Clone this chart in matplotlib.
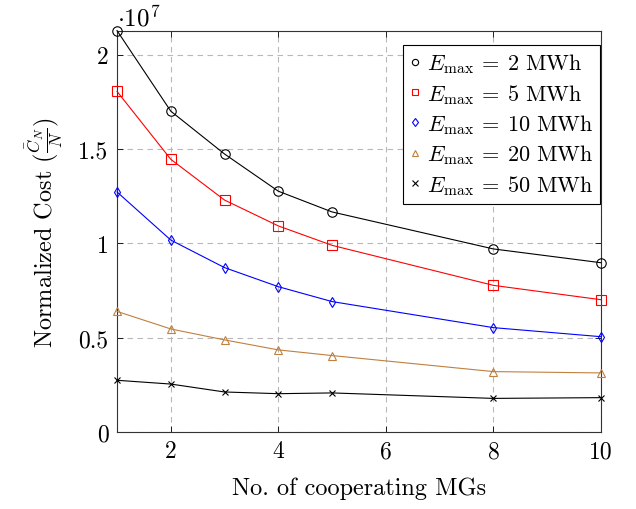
import matplotlib
matplotlib.use("Agg")
import matplotlib.pyplot as plt
from matplotlib.lines import Line2D
from matplotlib.ticker import FuncFormatter

plt.rcParams['font.family'] = 'serif'
plt.rcParams['font.serif'] = ['cmr10']
plt.rcParams['mathtext.fontset'] = 'cm'
plt.rcParams['axes.unicode_minus'] = False

mgs = [1, 2, 3, 4, 5, 8, 10]
cost_2 = [2.127e7, 1.700e7, 1.473e7, 1.276e7, 1.166e7, 0.970e7, 0.897e7]
cost_5 = [1.805e7, 1.445e7, 1.229e7, 1.092e7, 0.989e7, 0.777e7, 0.701e7]
cost_10 = [1.272e7, 1.017e7, 0.871e7, 0.770e7, 0.691e7, 0.553e7, 0.505e7]
cost_20 = [0.639e7, 0.546e7, 0.488e7, 0.435e7, 0.405e7, 0.320e7, 0.313e7]
cost_50 = [0.274e7, 0.254e7, 0.212e7, 0.203e7, 0.207e7, 0.178e7, 0.182e7]
labels = [r'$E_{\max}\:=\:2\ \mathrm{MWh}$', r'$E_{\max}\:=\:5\ \mathrm{MWh}$',
          r'$E_{\max}\:=\:10\ \mathrm{MWh}$', r'$E_{\max}\:=\:20\ \mathrm{MWh}$',
          r'$E_{\max}\:=\:50\ \mathrm{MWh}$']
xticks = [2, 4, 6, 8, 10]
yticks = [0, 0.5e7, 1.0e7, 1.5e7, 2.0e7]

series = [cost_2, cost_5, cost_10, cost_20, cost_50]
colors = ['black', '#ff0000', '#0000ff', '#bf8040', 'black']
markers = ['o', 's', 'd', '^', 'x']
msizes = [6.8, 6.8, 5.0, 5.5, 4.5]

fig = plt.figure(figsize=(6.36, 5.10), dpi=100)
ax = fig.add_axes([0.184, 0.151, 0.761, 0.787])

handles = []
for y, c, m, ms, lab in zip(series, colors, markers, msizes, labels):
    ax.plot(mgs, y, color=c, lw=0.8, marker=m, ms=ms, mfc='none', mec=c, mew=0.8,
            clip_on=False, zorder=3)
    handles.append(Line2D([], [], ls='none', marker=m, color=c, mfc='none', mec=c,
                          mew=0.8, ms=4.5, label=lab))

ax.set_xlim(1, 10)
ax.set_ylim(0, 2.127e7)
ax.set_xticks(xticks)
ax.set_yticks(yticks)
ax.yaxis.set_major_formatter(FuncFormatter(lambda v, p: ('%g' % (v / 1e7))))
ax.tick_params(direction='in', top=True, right=True, labelsize=17, length=4,
               width=0.6, pad=6)
ax.grid(True, color='#b8b8b8', ls=(0, (5, 4)), lw=0.8)
for s in ax.spines.values():
    s.set_linewidth(0.8)
    s.set_color('#333333')

ax.text(0.0, 1.002, r'$\cdot 10^{7}$', transform=ax.transAxes, fontsize=18,
        ha='left', va='bottom')

ax.set_xlabel('No. of cooperating MGs', fontsize=17.5, labelpad=10)
ax.set_ylabel(r'Normalized Cost ($\frac{\bar{C}_N}{N}$)', fontsize=17.5, labelpad=10)

leg = ax.legend(handles=handles, loc='upper right', bbox_to_anchor=(0.998, 0.965),
                fontsize=16, frameon=True,
                fancybox=False, edgecolor='black', framealpha=1,
                handlelength=0.5, handletextpad=0.3, borderpad=0.3,
                labelspacing=0.3, borderaxespad=0.0)
leg.get_frame().set_linewidth(0.8)

fig.savefig('out.png', dpi=100)
